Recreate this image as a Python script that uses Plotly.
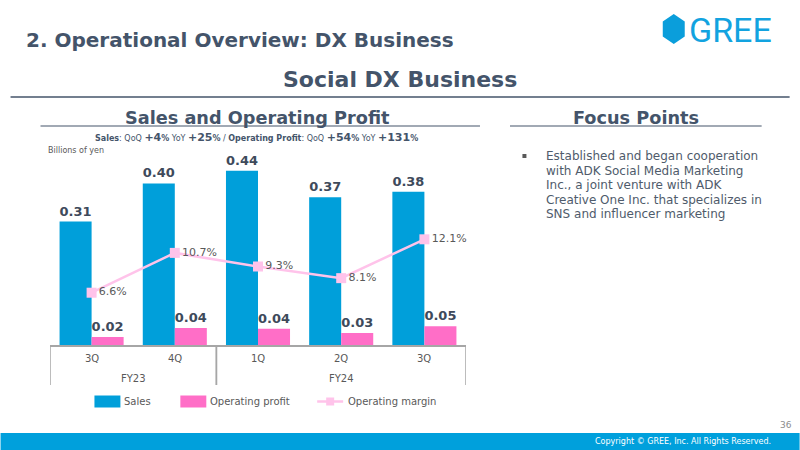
import plotly.graph_objects as go

# ---- data ----
fiscal_years = ["FY23", "FY23", "FY24", "FY24", "FY24"]
quarters = ["3Q", "4Q", "1Q", "2Q", "3Q"]
sales = [0.310, 0.406, 0.438, 0.371, 0.385]
sales_labels = ["0.31", "0.40", "0.44", "0.37", "0.38"]
op_profit = [0.020, 0.043, 0.041, 0.030, 0.047]
op_profit_labels = ["0.02", "0.04", "0.04", "0.03", "0.05"]
op_margin = [6.6, 10.7, 9.3, 8.1, 12.1]
op_margin_labels = ["6.6%", "10.7%", "9.3%", "8.1%", "12.1%"]
series_names = ["Sales", "Operating profit", "Operating margin"]
focus_lines = ["Established and began cooperation",
               "with ADK Social Media Marketing",
               "Inc., a joint venture with ADK",
               "Creative One Inc. that specializes in",
               "SNS and influencer marketing"]

W, H = 800, 450
PL, PR, PT, PB = 49.5, 466, 150, 345  # plot area in pixels


def px(x):
    return (x - PL) / (PR - PL)


def py(y):
    return (PB - y) / (PB - PT)


BLUE = "#009FDA"
PINK = "#FF6EC7"
LINE = "#FFC3EA"
SLATE = "#44546A"
GREY = "#595959"
AXIS = "#A6A6A6"
FONT = "DejaVu Sans"

keys = [f"{fy} {q}" for fy, q in zip(fiscal_years, quarters)]

fig = go.Figure()
fig.add_trace(go.Bar(
    x=keys, y=sales, name=series_names[0], marker=dict(color=BLUE, line=dict(width=0)),
    text=sales_labels, textposition="outside", cliponaxis=False,
    textfont=dict(family=FONT, size=13, color="#3E4A5B", weight="bold"),
))
fig.add_trace(go.Bar(
    x=keys, y=op_profit, name=series_names[1], marker=dict(color=PINK, line=dict(width=0)),
    text=op_profit_labels, textposition="outside", cliponaxis=False,
    textfont=dict(family=FONT, size=13, color="#3E4A5B", weight="bold"),
))
fig.add_trace(go.Scatter(
    x=keys, y=op_margin, name=series_names[2], yaxis="y2", mode="lines+markers+text",
    line=dict(color=LINE, width=2.5), marker=dict(symbol="square", size=10, color=LINE),
    text=op_margin_labels, textposition="middle right", cliponaxis=False,
    textfont=dict(family=FONT, size=11, color=GREY),
))

r1 = (PB - PT) / 398.0
y2_zero = 356.8   # pixel row where 0% would fall
y2_scale = 9.71   # pixels per percentage point
fig.update_layout(
    width=W, height=H,
    margin=dict(l=PL, r=W - PR, t=PT, b=H - PB),
    paper_bgcolor="white", plot_bgcolor="white",
    barmode="group", bargap=0.23, bargroupgap=0,
    font=dict(family=FONT, color=GREY, size=10),
    showlegend=False,
    xaxis=dict(type="category", showline=True, linecolor=AXIS, linewidth=1.5,
               showticklabels=False, ticks="", showgrid=False, zeroline=False,
               range=[-0.5, len(keys) - 0.5]),
    yaxis=dict(range=[0, r1], visible=False, showgrid=False, zeroline=False),
    yaxis2=dict(range=[(y2_zero - PB) / y2_scale, (y2_zero - PT) / y2_scale],
                overlaying="y", visible=False, showgrid=False, zeroline=False),
)

ann = []
shapes = []


def text(xp, yp, s, size, color=SLATE, bold=False, anchor="center", family=FONT, valign="middle"):
    ann.append(dict(x=px(xp), y=py(yp), xref="paper", yref="paper", text=s, showarrow=False,
                    xanchor=anchor, yanchor=valign, align=anchor if anchor != "center" else "center",
                    font=dict(size=size, color=color, family=family,
                              weight="bold" if bold else "normal")))


def hline(x0, x1, y, color=SLATE, width=1.5):
    shapes.append(dict(type="line", xref="paper", yref="paper", x0=px(x0), x1=px(x1),
                       y0=py(y), y1=py(y), line=dict(color=color, width=width)))


# category axis labels (quarters + fiscal year groups) and dividers
for i, q in enumerate(quarters):
    ann.append(dict(x=i, y=py(358.5), xref="x", yref="paper", text=q, showarrow=False,
                    xanchor="center", yanchor="middle", font=dict(size=10, color=GREY)))
groups = []
for i, fy in enumerate(fiscal_years):
    if not groups or groups[-1][0] != fy:
        groups.append([fy, i, i])
    else:
        groups[-1][2] = i
for fy, a, b in groups:
    ann.append(dict(x=(a + b) / 2, y=py(378), xref="x", yref="paper", text=fy, showarrow=False,
                    xanchor="center", yanchor="middle", font=dict(size=10, color=GREY)))
    for edge in (a - 0.5, b + 0.5):
        shapes.append(dict(type="line", xref="x", yref="paper", x0=edge, x1=edge,
                           y0=0, y1=py(385), line=dict(color=AXIS, width=1.5)))

# header
text(23, 40, "2. Operational Overview: DX Business", 20, SLATE, True, "left")
text(400, 80, "Social DX Business", 22, SLATE, True, "center")
hline(10, 790, 97, SLATE, 1.5)

# GREE logo
cx, cy, hw, hh = 674, 29, 11, 15
path = "M {} {} L {} {} L {} {} L {} {} L {} {} L {} {} Z".format(
    px(cx), py(cy - hh), px(cx + hw), py(cy - hh / 2), px(cx + hw), py(cy + hh / 2),
    px(cx), py(cy + hh), px(cx - hw), py(cy + hh / 2), px(cx - hw), py(cy - hh / 2))
shapes.append(dict(type="path", xref="paper", yref="paper", path=path,
                   fillcolor="#0A9EDB", line=dict(width=0)))
text(687, 30, "GREE", 34, "#12A3E0", False, "left", "Roboto")

# section titles
text(257, 118, "Sales and Operating Profit", 17.7, SLATE, True, "center")
hline(40, 480, 126, SLATE, 1.2)
text(636, 118, "Focus Points", 17.7, SLATE, True, "center")
hline(510, 762, 126, SLATE, 1.2)

sub = ("<b>Sales</b>: QoQ <b><span style='font-size:11px'>+4</span>%</b> YoY "
       "<b><span style='font-size:11px'>+25</span>%</b> / <b>Operating Profit</b>: QoQ "
       "<b><span style='font-size:11px'>+54</span>%</b> YoY "
       "<b><span style='font-size:11px'>+131</span>%</b>")
text(256, 137, sub, 8, SLATE, False, "center")
text(45, 150, "Billions of yen", 8, GREY, False, "left")

# focus points
shapes.append(dict(type="rect", xref="paper", yref="paper", x0=px(522.5), x1=px(526.5),
                   y0=py(154), y1=py(158), fillcolor="#595959", line=dict(width=0)))
for k, ln in enumerate(focus_lines):
    text(544, 156 + 14.6 * k, ln, 12, "#4F5B6B", False, "left")

# legend (drawn manually)
lg_y = 401.5
shapes.append(dict(type="rect", xref="paper", yref="paper", x0=px(94), x1=px(120),
                   y0=py(395.5), y1=py(407.5), fillcolor=BLUE, line=dict(width=0)))
text(122, lg_y, series_names[0], 10, GREY, False, "left")
shapes.append(dict(type="rect", xref="paper", yref="paper", x0=px(180), x1=px(206),
                   y0=py(395.5), y1=py(407.5), fillcolor=PINK, line=dict(width=0)))
text(208, lg_y, series_names[1], 10, GREY, False, "left")
hline(317, 343, lg_y, LINE, 2.5)
shapes.append(dict(type="rect", xref="paper", yref="paper", x0=px(326), x1=px(334),
                   y0=py(lg_y - 4), y1=py(lg_y + 4), fillcolor=LINE, line=dict(width=0)))
text(346, lg_y, series_names[2], 10, GREY, False, "left")

# footer
shapes.append(dict(type="rect", xref="paper", yref="paper", x0=px(0), x1=px(800),
                   y0=py(433), y1=py(450), fillcolor="#00A0DC", line=dict(width=0)))
text(683, 441, "Copyright © GREE, Inc. All Rights Reserved.", 8, "white", False, "center")
text(786, 425, "36", 9, "#8C8C8C", False, "center")

fig.update_layout(annotations=ann, shapes=shapes)
fig.write_html("out.html")
